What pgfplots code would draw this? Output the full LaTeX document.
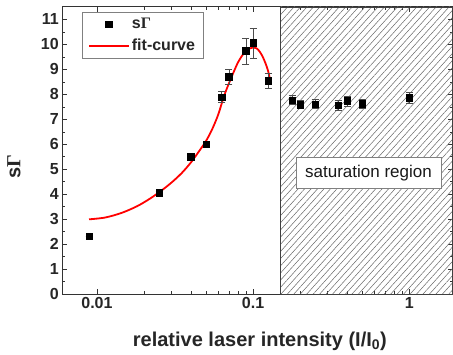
\documentclass[border=0pt]{standalone}
\usepackage{fontspec}
\setmainfont{Liberation Sans}
\newfontfamily\gfont{Liberation Serif}
\usepackage{pgfplots}
\pgfplotsset{compat=1.18}
\usetikzlibrary{patterns.meta}

\pgfplotstableread{
x y e
0.0089 2.32 0
0.025 4.07 0.04
0.04 5.50 0.05
0.05 6.01 0.08
0.063 7.89 0.22
0.07 8.70 0.30
0.09 9.74 0.52
0.1 10.06 0.60
0.125 8.54 0.31
0.178 7.77 0.18
0.2 7.60 0.15
0.25 7.61 0.18
0.35 7.57 0.20
0.4 7.74 0.20
0.5 7.62 0.18
1 7.86 0.22
}\datatable

\pgfplotstableread{
x y
0.0089 3.00
0.011 3.06
0.013 3.17
0.015 3.30
0.018 3.52
0.021 3.76
0.025 4.08
0.03 4.47
0.035 4.86
0.04 5.28
0.045 5.72
0.05 6.14
0.055 6.64
0.06 7.22
0.065 7.92
0.07 8.44
0.075 8.89
0.08 9.28
0.085 9.55
0.09 9.74
0.095 9.84
0.1 9.88
0.105 9.85
0.11 9.72
0.115 9.52
0.12 9.25
0.125 8.92
0.128 8.62
}\fittable

\begin{document}
\begin{tikzpicture}[x=1pt,y=1pt]
\path[use as bounding box] (0,0) rectangle (453,355);
\begin{axis}[
  at={(62.3pt,60.7pt)}, anchor=south west,
  scale only axis, width=390.5pt, height=287.3pt,
  xmode=log, xmin=0.006, xmax=1.9, ymin=0, ymax=11.5,
  xtick={0.01,0.1,1}, xticklabels={0.01,0.1,1},
  ytick={0,1,...,11}, minor y tick num=1,
  /pgf/number format/assume math mode=true,
  tick label style={font=\bfseries\fontsize{16}{16}\selectfont, black!85},
  axis line style={black!80, line width=1pt},
  every tick/.style={black!80, line width=0.8pt},
  major tick length=5pt, minor tick length=3pt,
  tick align=inside,
  xlabel={relative laser intensity (I/I\textsubscript{0})},
  ylabel={s{\gfont Γ}},
  label style={font=\bfseries\fontsize{20}{20}\selectfont, black!85},
  xlabel style={at={(axis description cs:0.506,-0.163)}, anchor=center},
  ylabel style={at={(axis description cs:-0.124,0.443)}, anchor=center},
  legend style={at={(0.05,0.983)}, anchor=north west, draw=black!50, line width=0.6pt,
    font=\bfseries\fontsize{16}{16}\selectfont, text=black!85,
    row sep=5pt, inner xsep=6pt, inner ysep=4pt, fill=white},
  legend cell align=left,
  legend image code/.code={\draw[mark repeat=2,mark phase=2,#1] plot coordinates {(0pt,0pt) (20pt,0pt) (40pt,0pt)};},
  clip=false,
]
\addplot[draw=black!75, line width=0.7pt,
  pattern={Lines[angle=48, distance=4.8pt, line width=0.5pt]}, pattern color=black!60, forget plot]
  coordinates {(0.15,0) (0.15,11.5) (1.9,11.5) (1.9,0)} -- cycle;
\addplot[red, line width=1.8pt, smooth, forget plot] table[x=x, y=y] {\fittable};
\addplot[only marks, mark=square*, mark size=3.3pt, black,
  error bars/.cd, y dir=both, y explicit,
  error bar style={black!70, line width=0.7pt},
  error mark options={rotate=90, black!70, mark size=3.5pt, line width=0.7pt}]
  table[x=x, y=y, y error=e] {\datatable};
\addlegendentry{s{\gfont Γ}}
\addlegendimage{red, line width=1.8pt}
\addlegendentry{fit-curve}
\node[draw=black!50, line width=0.6pt, fill=white, minimum width=145pt, minimum height=31pt, inner sep=0pt,
  font=\fontsize{17}{17}\selectfont, text=black!90] at (axis cs:0.548,4.87) {saturation region};
\end{axis}
\end{tikzpicture}
\end{document}
